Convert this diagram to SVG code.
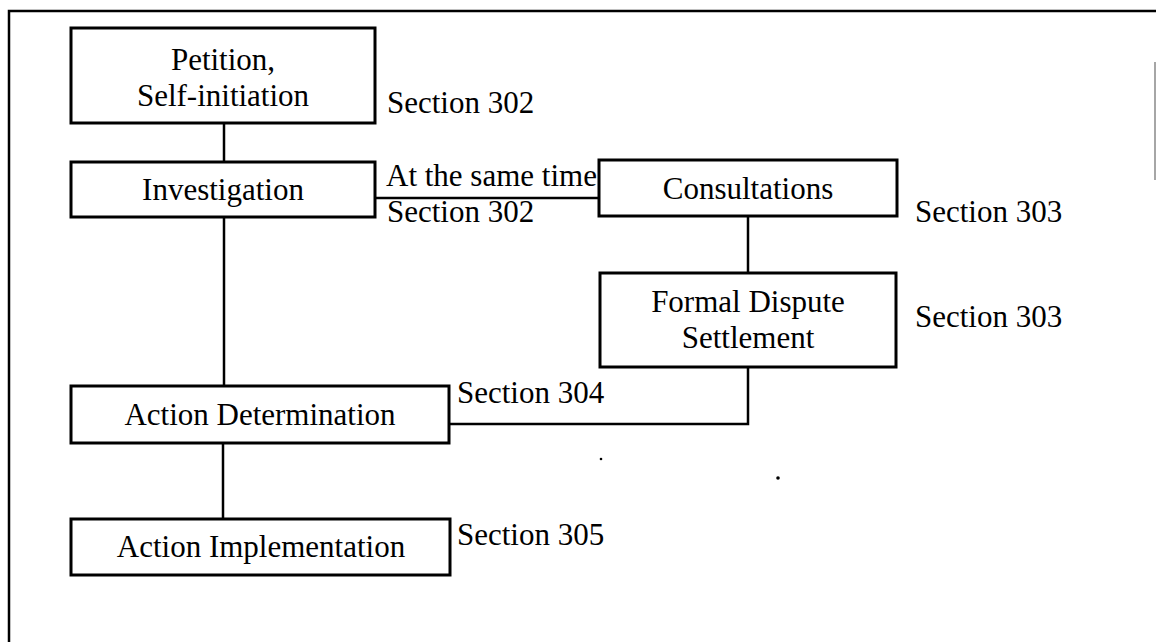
<svg xmlns="http://www.w3.org/2000/svg" width="1156" height="642" viewBox="0 0 1156 642">
  <style>
    .box { fill: #fff; stroke: #000; stroke-width: 3; }
    .lbl { font-family: "Liberation Serif", "Times New Roman", serif; font-size: 31px; fill: #000; }
    .mid { text-anchor: middle; }
    .wire { fill: none; stroke: #000; stroke-width: 2.5; }
  </style>
  <rect width="1156" height="642" fill="#fff"/>

  <!-- page frame -->
  <g id="frame">
    <path d="M9 642 V11 H1156" fill="none" stroke="#000" stroke-width="2.5"/>
    <line x1="1155" y1="62" x2="1155" y2="180" stroke="#888" stroke-width="1.5"/>
    <circle cx="601" cy="459" r="1.3" fill="#000"/>
    <circle cx="778" cy="478" r="1.8" fill="#000"/>
  </g>

  <!-- connectors -->
  <g id="connectors" class="wire">
    <line x1="224" y1="123" x2="224" y2="162"/>
    <line x1="375" y1="198" x2="599" y2="198"/>
    <line x1="748" y1="216" x2="748" y2="273"/>
    <line x1="224" y1="217" x2="224" y2="386"/>
    <path d="M748 367 V424 H449"/>
    <line x1="223" y1="443" x2="223" y2="519"/>
  </g>

  <g id="petition">
    <rect class="box" x="71" y="28" width="304" height="95"/>
    <text class="lbl mid" x="223" y="70">Petition,</text>
    <text class="lbl mid" x="223" y="106">Self-initiation</text>
    <text class="lbl" x="387" y="113">Section 302</text>
  </g>

  <g id="investigation">
    <rect class="box" x="71" y="162" width="304" height="55"/>
    <text class="lbl mid" x="223" y="200">Investigation</text>
    <text class="lbl" x="386" y="186">At the same time</text>
    <text class="lbl" x="387" y="222">Section 302</text>
  </g>

  <g id="consultations">
    <rect class="box" x="599" y="160" width="298" height="56"/>
    <text class="lbl mid" x="748" y="199">Consultations</text>
    <text class="lbl" x="915" y="222">Section 303</text>
  </g>

  <g id="dispute">
    <rect class="box" x="600" y="273" width="296" height="94"/>
    <text class="lbl mid" x="748" y="312">Formal Dispute</text>
    <text class="lbl mid" x="748" y="348">Settlement</text>
    <text class="lbl" x="915" y="327">Section 303</text>
  </g>

  <g id="determination">
    <rect class="box" x="71" y="386" width="378" height="57"/>
    <text class="lbl mid" x="260" y="425">Action Determination</text>
    <text class="lbl" x="457" y="403">Section 304</text>
  </g>

  <g id="implementation">
    <rect class="box" x="71" y="519" width="379" height="56"/>
    <text class="lbl mid" x="261" y="557">Action Implementation</text>
    <text class="lbl" x="457" y="545">Section 305</text>
  </g>
</svg>
